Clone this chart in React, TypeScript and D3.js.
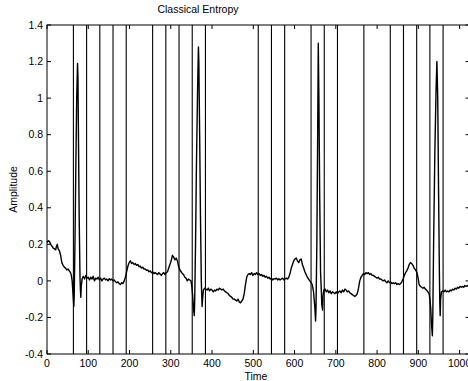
import React from "react";
import * as d3 from "d3";

const boundaries: number[] = [64, 96, 128, 160, 192, 256, 288, 320, 352, 384, 512, 544, 576, 640, 672, 704, 768, 832, 864, 896, 928, 960];
const xTicks: number[] = [0, 100, 200, 300, 400, 500, 600, 700, 800, 900, 1000];
const yTicks: number[] = [-0.4, -0.2, 0, 0.2, 0.4, 0.6, 0.8, 1, 1.2, 1.4];

const beat1: [number, number][] = [
  [0, 0.21], [3, 0.22], [6, 0.215], [9, 0.2], [12, 0.19], [15, 0.18], [18, 0.175], [21, 0.17], [23, 0.19], [25, 0.2],
  [27, 0.175], [30, 0.165], [33, 0.14], [36, 0.1], [39, 0.085], [42, 0.075], [45, 0.07], [48, 0.06], [51, 0.065],
  [54, 0.055], [57, 0.045], [59, 0.03], [61, 0.0], [63, -0.07], [65, -0.14], [66, -0.08], [68, 0.25], [70, 0.65],
  [72, 1.0], [74, 1.19], [75, 1.12], [76, 0.85], [78, 0.35], [80, 0.02], [81, -0.05], [82, -0.09], [83, -0.03], [85, 0.01],
];
const base1: [number, number][] = [
  [88, 0.025], [91, 0.01], [94, 0.03], [97, 0.015], [100, 0.02], [103, 0.005], [106, 0.02], [109, 0.01], [112, 0.025],
  [115, 0.0], [118, 0.015], [121, 0.01], [124, 0.02], [127, 0.005], [130, 0.015], [133, 0.0], [136, 0.01], [139, 0.015],
  [142, 0.005], [145, 0.01], [148, 0.0], [151, 0.012], [154, 0.005], [157, 0.01], [160, 0.0], [163, 0.005], [166, -0.005],
  [169, -0.01], [172, -0.005], [175, -0.015], [178, -0.02], [181, -0.01], [184, -0.015], [187, 0.0], [190, 0.02],
  [193, 0.05], [196, 0.08], [199, 0.1], [202, 0.11], [205, 0.095], [208, 0.1], [211, 0.09], [214, 0.095], [217, 0.085],
  [220, 0.09], [223, 0.078], [226, 0.08], [229, 0.07], [232, 0.075], [235, 0.065], [238, 0.065], [241, 0.058], [244, 0.06],
  [247, 0.05], [250, 0.055], [253, 0.045], [256, 0.05], [259, 0.04], [262, 0.045], [265, 0.04], [268, 0.035], [271, 0.045],
  [274, 0.038], [277, 0.03], [280, 0.04], [283, 0.045], [286, 0.035], [289, 0.045], [292, 0.05], [295, 0.07], [298, 0.09],
  [301, 0.11], [304, 0.14], [307, 0.13], [310, 0.115], [313, 0.125], [316, 0.11], [319, 0.08], [322, 0.06], [325, 0.05],
  [328, 0.04], [331, 0.035], [334, 0.02], [337, 0.015], [340, 0.0], [343, 0.01], [346, 0.005], [349, 0.0],
];
const beat2: [number, number][] = [
  [351, -0.03], [353, -0.08], [355, -0.15], [357, -0.19], [358, -0.1], [360, 0.2], [362, 0.6], [365, 1.05], [367, 1.28],
  [368, 1.2], [370, 0.8], [372, 0.35], [374, 0.0], [375, -0.08], [376, -0.14], [377, -0.1], [379, -0.05],
];
const base2: [number, number][] = [
  [382, -0.04], [385, -0.045], [388, -0.05], [391, -0.04], [394, -0.055], [397, -0.045], [400, -0.05], [403, -0.06],
  [406, -0.05], [409, -0.055], [412, -0.045], [415, -0.05], [418, -0.04], [421, -0.045], [424, -0.05], [427, -0.045],
  [430, -0.055], [433, -0.06], [436, -0.065], [439, -0.07], [442, -0.08], [445, -0.085], [448, -0.09], [451, -0.1],
  [454, -0.1], [457, -0.105], [460, -0.11], [463, -0.1], [466, -0.115], [469, -0.12], [472, -0.11], [475, -0.1],
  [478, -0.07], [481, -0.02], [484, 0.02], [487, 0.035], [490, 0.04], [493, 0.035], [496, 0.045], [499, 0.03], [502, 0.04],
  [505, 0.035], [508, 0.045], [511, 0.035], [514, 0.04], [517, 0.03], [520, 0.035], [523, 0.025], [526, 0.03], [529, 0.02],
  [532, 0.025], [535, 0.015], [538, 0.02], [541, 0.01], [544, 0.015], [547, 0.005], [550, 0.012], [553, 0.01], [556, 0.015],
  [559, 0.005], [562, 0.012], [565, 0.005], [568, 0.01], [571, 0.015], [574, 0.005], [577, 0.01], [580, 0.015], [583, 0.01],
  [586, 0.02], [589, 0.04], [592, 0.07], [595, 0.09], [598, 0.11], [601, 0.12], [604, 0.125], [607, 0.11], [610, 0.1],
  [613, 0.115], [616, 0.12], [619, 0.09], [622, 0.07], [625, 0.05], [628, 0.035], [631, 0.02], [634, 0.01], [637, 0.0],
  [640, -0.01], [643, -0.02],
];
const beat3: [number, number][] = [
  [646, -0.06], [649, -0.14], [651, -0.22], [652, -0.15], [654, 0.2], [656, 0.8], [657.5, 1.3], [659, 1.0], [661, 0.45],
  [663, 0.05], [665, -0.06], [666, -0.13], [668, -0.16], [669, -0.08], [671, -0.05],
];
const base3: [number, number][] = [
  [674, -0.045], [677, -0.06], [680, -0.05], [683, -0.065], [686, -0.055], [689, -0.07], [692, -0.06], [695, -0.065],
  [698, -0.07], [701, -0.06], [704, -0.07], [707, -0.06], [710, -0.055], [713, -0.065], [716, -0.05], [719, -0.06],
  [722, -0.045], [725, -0.05], [728, -0.06], [731, -0.055], [734, -0.065], [737, -0.07], [740, -0.075], [743, -0.08],
  [746, -0.085], [749, -0.08], [752, -0.07], [755, -0.04], [758, 0.0], [761, 0.02], [764, 0.03], [767, 0.04], [770, 0.035],
  [773, 0.045], [776, 0.04], [779, 0.045], [782, 0.035], [785, 0.04], [788, 0.03], [791, 0.03], [794, 0.025], [797, 0.02],
  [800, 0.015], [803, 0.02], [806, 0.01], [809, 0.01], [812, 0.005], [815, 0.0], [818, 0.005], [821, -0.005], [824, -0.01],
  [827, 0.0], [830, -0.01], [833, -0.005], [836, -0.015], [839, -0.01], [842, -0.015], [845, -0.01], [848, -0.02],
  [851, -0.015], [854, -0.02], [857, -0.015], [860, -0.005], [863, 0.01], [866, 0.03], [869, 0.045], [872, 0.055],
  [875, 0.07], [878, 0.09], [881, 0.1], [884, 0.095], [887, 0.085], [890, 0.07], [893, 0.06], [896, 0.05], [899, 0.02],
  [902, -0.02], [905, -0.03], [908, -0.035], [911, -0.04], [914, -0.035], [917, -0.045], [920, -0.05], [923, -0.06],
  [926, -0.07],
];
const beat4: [number, number][] = [
  [928, -0.1], [930, -0.15], [932, -0.24], [934, -0.3], [935, -0.2], [937, 0.2], [940, 0.7], [943, 1.05], [945, 1.2],
  [947, 1.0], [949, 0.5], [951, 0.05], [952, -0.12], [953, -0.19], [954, -0.1], [956, -0.06],
];
const base4: [number, number][] = [
  [959, -0.055], [962, -0.06], [965, -0.05], [968, -0.06], [971, -0.055], [974, -0.06], [977, -0.05], [980, -0.055],
  [983, -0.045], [986, -0.05], [989, -0.04], [992, -0.045], [995, -0.035], [998, -0.04], [1001, -0.03], [1004, -0.035],
  [1007, -0.03], [1010, -0.035], [1013, -0.025], [1016, -0.03], [1019, -0.025], [1022, -0.03], [1024, -0.025],
];

const W = 468;
const H = 381;
const left = 47;
const right = 469.5;
const top = 25;
const bottom = 354;
const FONT = "'Liberation Sans', Arial, Helvetica, sans-serif";

export default function App() {
  const x = d3.scaleLinear().domain([0, 1024]).range([left, right]);
  const y = d3.scaleLinear().domain([-0.4, 1.4]).range([bottom, top]);
  const signal = [...beat1, ...base1, ...beat2, ...base2, ...beat3, ...base3, ...beat4, ...base4];
  const line = d3
    .line<[number, number]>()
    .x((d) => x(d[0]))
    .y((d) => y(d[1]));
  const fmtY = (v: number) => (Math.abs(v) < 1e-9 ? "0" : String(+v.toFixed(1)));
  const tl = 4;
  return (
    <svg
      width={W}
      height={H}
      style={{ position: "fixed", left: 0, top: 0, background: "#fff" }}
      fontFamily={FONT}
    >
      <rect x={0} y={0} width={W} height={H} fill="#fff" />
      {boundaries.map((b) => (
        <line key={"b" + b} x1={x(b)} x2={x(b)} y1={y(-0.4)} y2={y(1.4)} stroke="#000" strokeWidth={1.1} />
      ))}
      <path d={line(signal) || ""} fill="none" stroke="#000" strokeWidth={1.4} strokeLinejoin="round" />
      <rect x={left} y={top} width={right - left} height={bottom - top} fill="none" stroke="#000" strokeWidth={1} />
      {xTicks.map((t) => (
        <g key={"x" + t}>
          <line x1={x(t)} x2={x(t)} y1={bottom} y2={bottom - tl} stroke="#000" />
          <line x1={x(t)} x2={x(t)} y1={top} y2={top + tl} stroke="#000" />
          <text x={x(t)} y={bottom + 13} fontSize={10.5} textAnchor="middle" fill="#000">
            {t}
          </text>
        </g>
      ))}
      {yTicks.map((t) => (
        <g key={"y" + t}>
          <line x1={left} x2={left + tl} y1={y(t)} y2={y(t)} stroke="#000" />
          <line x1={right} x2={right - tl} y1={y(t)} y2={y(t)} stroke="#000" />
          <text x={left - 4} y={y(t)} dy="0.35em" fontSize={10.5} textAnchor="end" fill="#000">
            {fmtY(t)}
          </text>
        </g>
      ))}
      <text x={198} y={13} fontSize={10.5} textAnchor="middle" fill="#000">
        Classical Entropy
      </text>
      <text x={256} y={379.5} fontSize={10.5} textAnchor="middle" fill="#000">
        Time
      </text>
      <text
        transform={`translate(17,${(top + bottom) / 2}) rotate(-90)`}
        fontSize={10.5}
        textAnchor="middle"
        fill="#000"
      >
        Amplitude
      </text>
    </svg>
  );
}
